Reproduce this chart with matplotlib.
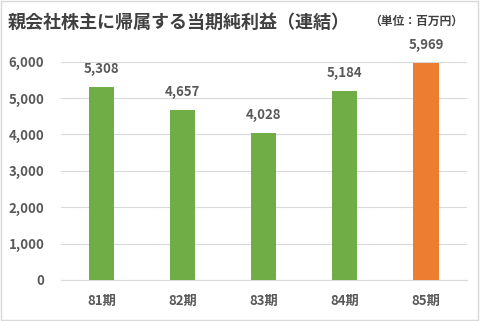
import matplotlib.pyplot as plt
from matplotlib.patches import Rectangle

plt.rcParams['font.family'] = ['Noto Sans CJK JP', 'DejaVu Sans']

periods = ["81期", "82期", "83期", "84期", "85期"]
profits = [5308, 4657, 4028, 5184, 5969]
colors = ["#70AD47", "#70AD47", "#70AD47", "#70AD47", "#ED7D31"]
yticks = [0, 1000, 2000, 3000, 4000, 5000, 6000]

text_color = "#595959"

fig = plt.figure(figsize=(4.8, 3.21), dpi=100)
ax = fig.add_axes([0.127, 0.128, 0.845, 0.68])

x = range(len(periods))
ax.bar(x, profits, width=0.31, color=colors, zorder=3)

for xi, v in zip(x, profits):
    ax.annotate(f"{v:,}", (xi, v), xytext=(0, 8), textcoords="offset points",
                ha="center", va="bottom", fontsize=9.5, fontweight="bold",
                color=text_color)

ax.set_xlim(-0.5, len(periods) - 0.5)
ax.set_ylim(0, 6000)
ax.set_yticks(yticks)
ax.set_yticklabels([f"{t:,}" for t in yticks])
ax.set_xticks(list(x))
ax.set_xticklabels(periods)
ax.grid(axis="y", color="#D9D9D9", linewidth=0.8, zorder=0)
ax.tick_params(length=0, colors=text_color, labelsize=9.5)
ax.tick_params(axis="x", pad=10)
ax.tick_params(axis="y", pad=12)
for lbl in ax.get_xticklabels() + ax.get_yticklabels():
    lbl.set_fontweight("bold")
for side in ["top", "right", "left"]:
    ax.spines[side].set_visible(False)
ax.spines["bottom"].set_color("#D9D9D9")

fig.text(0.017, 0.93, "親会社株主に帰属する当期純利益（連結）", fontsize=13,
         fontweight="bold", color="#404040", va="center")
fig.text(0.965, 0.935, "（単位：百万円）", fontsize=8.5, fontweight="bold",
         color="#404040", ha="right", va="center")

fig.patches.append(Rectangle((0.002, 0.003), 0.994, 0.994, transform=fig.transFigure,
                             fill=False, edgecolor="#D9D9D9", linewidth=1))

fig.savefig("out.png", dpi=100)
